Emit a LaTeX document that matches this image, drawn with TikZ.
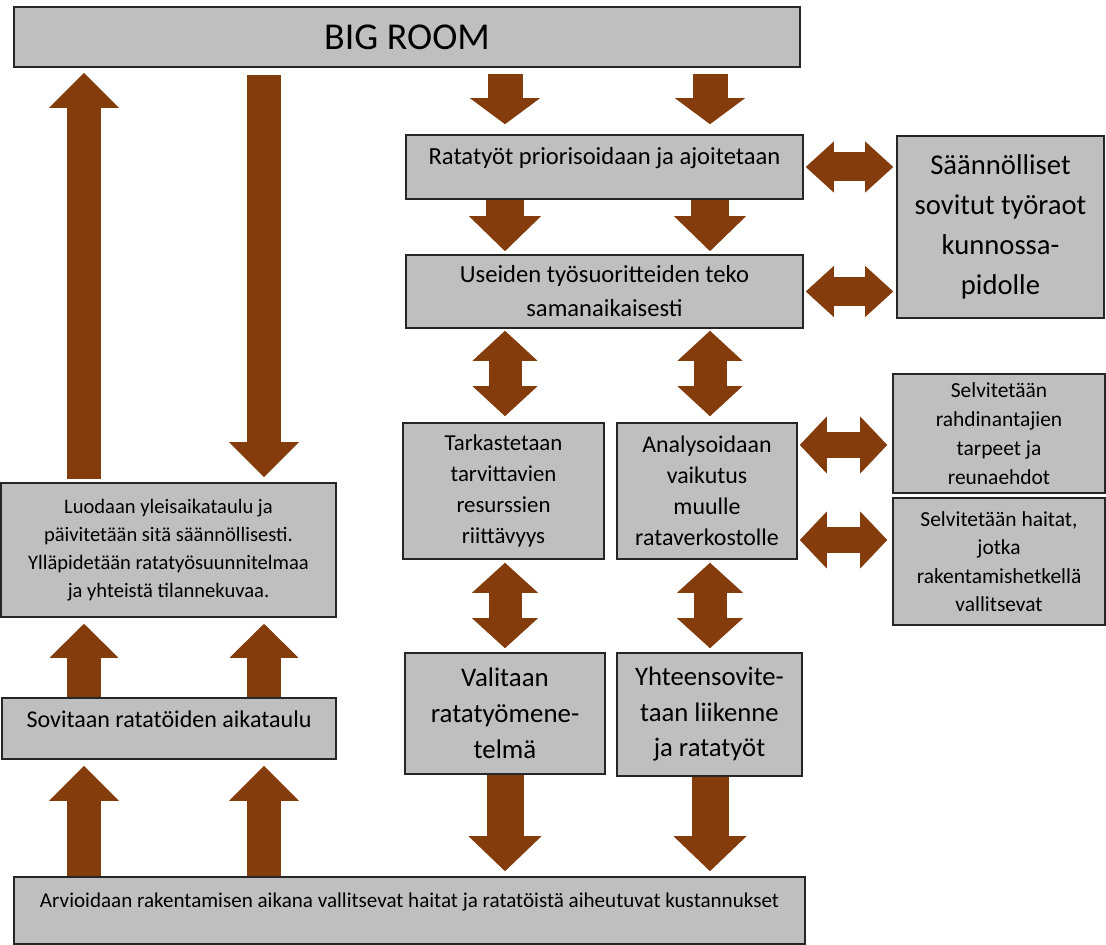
\documentclass[tikz,border=0pt]{standalone}
\usepackage{fontspec}
\setmainfont{Carlito}
\usetikzlibrary{arrows.meta}
\definecolor{ruskea}{RGB}{132,60,12}
\definecolor{harmaa}{RGB}{191,191,191}

\begin{document}
\begin{tikzpicture}[x=0.02cm, y=-0.02cm,
  box/.style={draw=black!85, line width=0.9pt, fill=harmaa, inner sep=0pt, align=center},
  yksi/.style n args={3}{draw=ruskea, line width=#1,
    -{Triangle[width=#2, length=#3, line width=0pt]}},
  kaksi/.style n args={3}{draw=ruskea, line width=#1,
    {Triangle[width=#2, length=#3, line width=0pt]}-{Triangle[width=#2, length=#3, line width=0pt]}}]
  \useasboundingbox (0,0) rectangle (1106,945);

  % Laatikot
  \node[box, minimum width=15.72cm, minimum height=1.20cm,
        font=\fontsize{21.6}{26}\selectfont] (big) at (407,37) {BIG ROOM};
  \node[box, minimum width=7.94cm, minimum height=1.28cm, text height=0.38cm, text depth=0.46cm,
        font=\fontsize{14}{17}\selectfont] (rat) at (604.5,167) {Ratatyöt priorisoidaan ja ajoitetaan};
  \node[box, minimum width=7.94cm, minimum height=1.46cm,
        font=\fontsize{14}{19.3}\selectfont] (use) at (604.5,291.5) {Useiden työsuoritteiden teko\\samanaikaisesti};
  \node[box, minimum width=4.14cm, minimum height=3.64cm,
        font=\fontsize{16.3}{22.8}\selectfont] (saa) at (1000.5,227) {Säännölliset\\sovitut työraot\\kunnossa-\\pidolle};
  \node[box, minimum width=6.70cm, minimum height=2.68cm,
        font=\fontsize{11.7}{15.9}\selectfont] (luo) at (168.5,550)
        {Luodaan yleisaikataulu ja\\päivitetään sitä säännöllisesti.\\Ylläpidetään ratatyösuunnitelmaa\\ja yhteistä tilannekuvaa.};
  \node[box, minimum width=6.68cm, minimum height=1.22cm, text height=0.38cm, text depth=0.44cm,
        font=\fontsize{13.7}{17}\selectfont] (sov) at (169,728.5) {Sovitaan ratatöiden aikataulu};
  \node[box, minimum width=4.02cm, minimum height=2.72cm,
        font=\fontsize{13}{17.6}\selectfont] (tar) at (503.5,491) {Tarkastetaan\\tarvittavien\\resurssien\\riittävyys};
  \node[box, minimum width=3.60cm, minimum height=2.72cm,
        font=\fontsize{13.6}{17.6}\selectfont] (ana) at (707,491) {Analysoidaan\\vaikutus\\muulle\\rataverkostolle};
  \node[box, minimum width=4.00cm, minimum height=2.42cm,
        font=\fontsize{15.3}{20.5}\selectfont] (val) at (505,713.5) {Valitaan\\ratatyömene-\\telmä};
  \node[box, minimum width=3.70cm, minimum height=2.46cm,
        font=\fontsize{15.2}{20.2}\selectfont] (yht) at (709.5,714.5) {Yhteensovite-\\taan liikenne\\ja ratatyöt};
  \node[box, minimum width=4.24cm, minimum height=2.38cm,
        font=\fontsize{12.2}{16.5}\selectfont] (sel1) at (999,433.5) {Selvitetään\\rahdinantajien\\tarpeet ja\\reunaehdot};
  \node[box, minimum width=4.24cm, minimum height=2.54cm,
        font=\fontsize{12.2}{16.1}\selectfont] (sel2) at (999,561.5) {Selvitetään haitat,\\jotka\\rakentamishetkellä\\vallitsevat};
  \node[box, minimum width=15.82cm, minimum height=1.34cm, text height=0.32cm, text depth=0.46cm,
        font=\fontsize{12}{15}\selectfont] (arv) at (409.5,910.5)
        {Arvioidaan rakentamisen aikana vallitsevat haitat ja ratatöistä aiheutuvat kustannukset};

  % Nuolten linjat
  \coordinate (v1) at (84,0);
  \coordinate (v2) at (264,0);
  \coordinate (o1) at (505,0);
  \coordinate (o2) at (710,0);
  \coordinate (h1) at (0,445);
  \coordinate (h2) at (0,540);

  % Vasen sarake
  \draw[yksi={0.68cm}{1.4cm}{0.7cm}, shorten <=0.06cm, shorten >=0.1cm] (v1 |- luo.north) -- (v1 |- big.south);
  \draw[yksi={0.68cm}{1.4cm}{0.7cm}, shorten <=0.14cm, shorten >=0.1cm] (v2 |- big.south) -- (v2 |- luo.north);
  \draw[yksi={0.7cm}{1.38cm}{0.68cm}, shorten >=0.12cm] (v1 |- sov.north) -- (v1 |- luo.south);
  \draw[yksi={0.7cm}{1.38cm}{0.68cm}, shorten >=0.12cm] (v2 |- sov.north) -- (v2 |- luo.south);
  \draw[yksi={0.7cm}{1.4cm}{0.7cm}, shorten >=0.12cm] (v1 |- arv.north) -- (v1 |- sov.south);
  \draw[yksi={0.7cm}{1.4cm}{0.7cm}, shorten >=0.12cm] (v2 |- arv.north) -- (v2 |- sov.south);

  % Oikea sarake
  \draw[yksi={0.7cm}{1.4cm}{0.52cm}, shorten <=0.12cm, shorten >=0.2cm] (o1 |- big.south) -- (o1 |- rat.north);
  \draw[yksi={0.7cm}{1.4cm}{0.52cm}, shorten <=0.12cm, shorten >=0.2cm] (o2 |- big.south) -- (o2 |- rat.north);
  \draw[yksi={0.76cm}{1.44cm}{0.7cm}, shorten >=0.06cm] (o1 |- rat.south) -- (o1 |- use.north);
  \draw[yksi={0.76cm}{1.44cm}{0.7cm}, shorten >=0.06cm] (o2 |- rat.south) -- (o2 |- use.north);
  \draw[kaksi={0.66cm}{1.3cm}{0.6cm}, shorten <=0.04cm, shorten >=0.12cm] (o1 |- use.south) -- (o1 |- tar.north);
  \draw[kaksi={0.66cm}{1.3cm}{0.6cm}, shorten <=0.04cm, shorten >=0.12cm] (o2 |- use.south) -- (o2 |- ana.north);
  \draw[kaksi={0.66cm}{1.32cm}{0.6cm}, shorten <=0.06cm, shorten >=0.08cm] (o1 |- tar.south) -- (o1 |- val.north);
  \draw[kaksi={0.66cm}{1.32cm}{0.6cm}, shorten <=0.06cm, shorten >=0.08cm] (o2 |- ana.south) -- (o2 |- yht.north);
  \draw[yksi={0.74cm}{1.46cm}{0.7cm}, shorten >=0.1cm] (o1 |- val.south) -- (o1 |- arv.north);
  \draw[yksi={0.74cm}{1.46cm}{0.7cm}, shorten >=0.1cm] (o2 |- yht.south) -- (o2 |- arv.north);

  % Vaakanuolet
  \draw[kaksi={0.58cm}{1.02cm}{0.56cm}, shorten <=0.04cm, shorten >=0.06cm] (rat.east) -- (rat.east -| saa.west);
  \draw[kaksi={0.58cm}{1.02cm}{0.56cm}, shorten <=0.04cm, shorten >=0.06cm] (use.east) -- (use.east -| saa.west);
  \draw[kaksi={0.54cm}{1.14cm}{0.54cm}, shorten <=0.04cm, shorten >=0.1cm] (ana.east |- h1) -- (sel1.west |- h1);
  \draw[kaksi={0.54cm}{1.14cm}{0.54cm}, shorten <=0.04cm, shorten >=0.1cm] (ana.east |- h2) -- (sel2.west |- h2);
\end{tikzpicture}
\end{document}
